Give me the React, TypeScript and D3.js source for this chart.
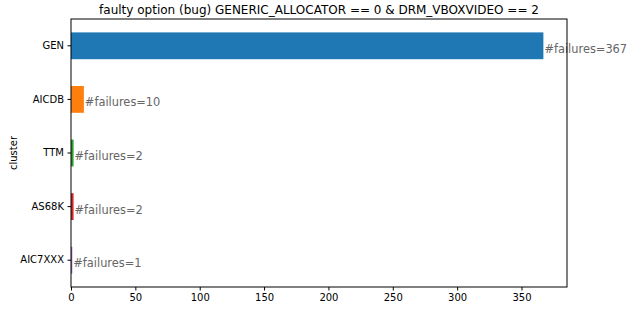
import { useEffect, useRef } from "react";
import * as d3 from "d3";

const categories = ["GEN", "AICDB", "TTM", "AS68K", "AIC7XXX"];
const failures = [367, 10, 2, 2, 1];
const colors = ["#1f77b4", "#ff7f0e", "#2ca02c", "#d62728", "#9467bd"];
const xTicks = [0, 50, 100, 150, 200, 250, 300, 350];
const title = "faulty option (bug) GENERIC_ALLOCATOR == 0 & DRM_VBOXVIDEO == 2";

export default function App() {
  const ref = useRef<SVGSVGElement | null>(null);
  const width = 629;
  const height = 309;

  useEffect(() => {
    if (!ref.current) return;
    const margin = { top: 19, right: 62, bottom: 22, left: 71 };
    const svg = d3.select(ref.current);
    svg.selectAll("*").remove();

    const x = d3
      .scaleLinear()
      .domain([0, d3.max(failures)! * 1.05])
      .range([margin.left, width - margin.right]);

    const y = d3
      .scaleBand<string>()
      .domain(categories)
      .range([margin.top, height - margin.bottom])
      .paddingInner(0.5)
      .paddingOuter(0.25);

    const font = "DejaVu Sans, sans-serif";

    // bars
    svg.append("g")
      .selectAll("rect")
      .data(categories)
      .join("rect")
      .attr("x", x(0))
      .attr("y", (d) => y(d)!)
      .attr("width", (_, i) => x(failures[i]) - x(0))
      .attr("height", y.bandwidth())
      .attr("fill", (_, i) => colors[i]);

    // value labels
    svg.append("g")
      .attr("font-family", font)
      .attr("font-size", 11.4)
      .attr("fill", "#666666")
      .selectAll("text")
      .data(categories)
      .join("text")
      .attr("x", (_, i) => x(failures[i]) + 1)
      .attr("y", (d) => y(d)! + y.bandwidth() / 2 + 7)
      .text((_, i) => `#failures=${failures[i]}`);

    // spines
    svg.append("rect")
      .attr("x", margin.left)
      .attr("y", margin.top)
      .attr("width", width - margin.right - margin.left)
      .attr("height", height - margin.bottom - margin.top)
      .attr("fill", "none")
      .attr("stroke", "#000")
      .attr("stroke-width", 1);

    // x axis
    const xAxis = svg.append("g")
      .attr("transform", `translate(0,${height - margin.bottom})`)
      .call(d3.axisBottom(x).tickValues(xTicks).tickSize(3.5).tickPadding(3.5));
    xAxis.select(".domain").remove();
    xAxis.selectAll("text").attr("font-family", font).attr("font-size", 10).attr("fill", "#000");

    // y axis
    const yAxis = svg.append("g")
      .attr("transform", `translate(${margin.left},0)`)
      .call(d3.axisLeft(y).tickSize(3.5).tickPadding(3.5));
    yAxis.select(".domain").remove();
    yAxis.selectAll("text").attr("font-family", font).attr("font-size", 10).attr("fill", "#000");

    svg.append("text")
      .attr("transform", `translate(16.5,${(margin.top + height - margin.bottom) / 2}) rotate(-90)`)
      .attr("text-anchor", "middle")
      .attr("font-family", font)
      .attr("font-size", 10)
      .text("cluster");

    svg.append("text")
      .attr("x", (margin.left + width - margin.right) / 2)
      .attr("y", 14)
      .attr("text-anchor", "middle")
      .attr("font-family", font)
      .attr("font-size", 12)
      .text(title);
  }, []);

  return (
    <>
      <style>{"body{margin:0}"}</style>
      <svg ref={ref} width={width} height={height} style={{ display: "block" }} />
    </>
  );
}
